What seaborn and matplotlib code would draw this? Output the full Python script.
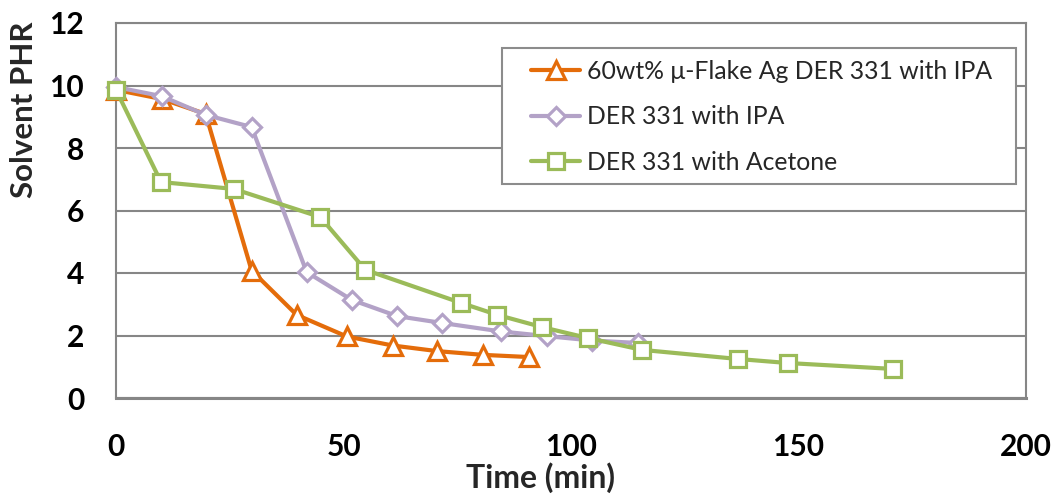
import matplotlib
matplotlib.use("Agg")
import matplotlib.pyplot as plt
from matplotlib.patches import Rectangle
import seaborn as sns
import numpy as np

# ---- data ----
ag_time = [0, 10, 19.7, 29.8, 39.7, 50.7, 60.8, 70.6, 80.7, 90.8]
ag_phr = [9.86, 9.57, 9.09, 4.08, 2.66, 1.97, 1.68, 1.50, 1.38, 1.31]

ipa_time = [0, 10, 19.7, 29.8, 41.9, 51.8, 61.8, 71.7, 84.6, 94.7, 104.6, 114.8]
ipa_phr = [9.95, 9.66, 9.06, 8.67, 4.03, 3.14, 2.62, 2.40, 2.13, 1.98, 1.84, 1.76]

ace_time = [0, 9.9, 25.9, 44.9, 54.8, 75.9, 83.8, 93.6, 103.7, 115.6, 136.6, 147.6, 170.8]
ace_phr = [9.86, 6.91, 6.69, 5.79, 4.10, 3.04, 2.66, 2.27, 1.92, 1.54, 1.25, 1.12, 0.93]

labels = ["60wt% \u03bc-Flake Ag DER 331 with IPA", "DER 331 with IPA", "DER 331 with Acetone"]
x_ticks = [0, 50, 100, 150, 200]
y_ticks = [0, 2, 4, 6, 8, 10, 12]

colors = ["#E46C0A", "#B3A2C7", "#9BBB59"]
markers = ["^", "D", "s"]
msizes = [12.5, 9, 11]

sns.set_style("white")
plt.rcParams['font.family'] = ['Lato', 'DejaVu Sans']

fig = plt.figure(figsize=(10.57, 4.95), dpi=100)
ax = fig.add_axes([116/1057, 1-398/495, 910/1057, 375/495])

series = [(ag_time, ag_phr), (ipa_time, ipa_phr), (ace_time, ace_phr)]
for (t, p), lab, c, m, ms in zip(series, labels, colors, markers, msizes):
    sns.lineplot(x=t, y=p, ax=ax, color=c, linewidth=3, marker=m,
                 markersize=ms, markerfacecolor="white", markeredgecolor=c,
                 markeredgewidth=2.3, label=lab, clip_on=False, zorder=3)

grid_c = "#868686"
ax.set_xlim(0, 200)
ax.set_ylim(0, 12)
ax.set_xticks(x_ticks)
ax.set_yticks(y_ticks)
ax.yaxis.grid(True, color=grid_c, linewidth=1.5)
ax.xaxis.grid(False)
for s in ax.spines.values():
    s.set_visible(True)
    s.set_color(grid_c)
    s.set_linewidth(1.5)
ax.spines['bottom'].set_linewidth(2.2)
ax.tick_params(axis='both', which='major', direction='out', length=7,
               width=1.5, color=grid_c, labelsize=21.5, labelcolor='black')
ax.tick_params(axis='y', pad=16)
ax.tick_params(axis='x', pad=18)
for lbl in ax.get_xticklabels() + ax.get_yticklabels():
    lbl.set_fontweight('bold')

ax.set_xlabel("Time (min)", fontsize=23, fontweight='bold')
ax.set_ylabel("Solvent PHR", fontsize=22.5, fontweight='bold')
ax.xaxis.set_label_coords(0.467, -0.211)
ax.xaxis.label.set_va('center')
ax.yaxis.set_label_coords(-0.101, 0.768)
ax.yaxis.label.set_va('center')

# legend frame drawn separately so its padding can match the reference
frame = Rectangle((386/910, 214/375), 514/910, 136/375, transform=ax.transAxes,
                  facecolor="white", edgecolor="#8c8c8c", linewidth=1.5,
                  zorder=4.9, clip_on=False)
ax.add_patch(frame)

leg = ax.legend(loc='upper left', bbox_to_anchor=(415/910, 338/375), borderaxespad=0,
                fontsize=17.8, frameon=False, numpoints=1,
                handlelength=2.0, handletextpad=0.25, borderpad=0.0,
                labelspacing=0.9)
leg.set_zorder(5)

fig.savefig("out.png", dpi=100)
